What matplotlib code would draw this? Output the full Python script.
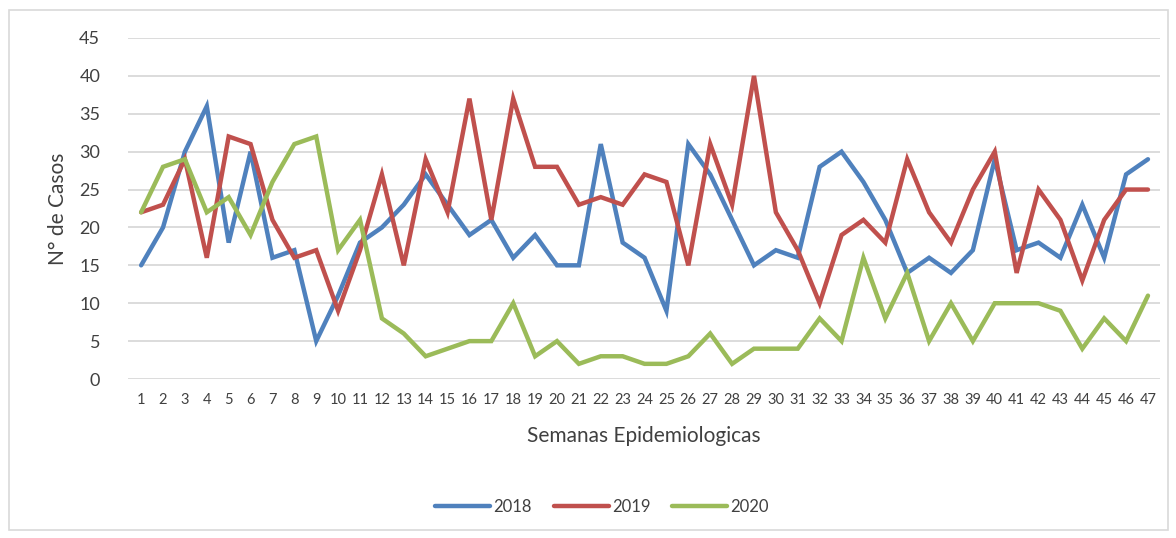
import matplotlib
matplotlib.use("Agg")
import matplotlib.pyplot as plt
from matplotlib.patches import Rectangle

weeks = list(range(1, 48))
s2018 = [15,20,30,36,18,30,16,17,5,11,18,20,23,27,23,19,21,16,19,15,15,31,18,16,9,31,27,21,15,17,16,28,30,26,21,14,16,14,17,29,17,18,16,23,16,27,29]
s2019 = [22,23,29,16,32,31,21,16,17,9,17,27,15,29,22,37,21,37,28,28,23,24,23,27,26,15,31,23,40,22,17,10,19,21,18,29,22,18,25,30,14,25,21,13,21,25,25]
s2020 = [22,28,29,22,24,19,26,31,32,17,21,8,6,3,4,5,5,10,3,5,2,3,3,2,2,3,6,2,4,4,4,8,5,16,8,14,5,10,5,10,10,10,9,4,8,5,11]
series = [("2018", s2018, "#4F81BD"), ("2019", s2019, "#C0504D"), ("2020", s2020, "#9BBB59")]
yticks = list(range(0, 50, 5))

plt.rcParams['font.family'] = ['Lato', 'DejaVu Sans']
W, H = 1176, 538
fig = plt.figure(figsize=(W/100, H/100), dpi=100)
fig.patches.append(Rectangle((9/W, 8/H), (1168-9)/W, (529-9)/H, transform=fig.transFigure,
                             fill=False, edgecolor="#D9D9D9", linewidth=1.2))
ax = fig.add_axes([128/W, 1-379/H, (1160-128)/W, (379-38)/H])
for name, vals, col in series:
    ax.plot(weeks, vals, color=col, linewidth=3.2, label=name, solid_joinstyle='miter', solid_capstyle='round')
ax.set_xlim(0.4, 47.55)
ax.set_ylim(0, 45)
ax.set_yticks(yticks)
ax.set_xticks(weeks)
ax.grid(axis='y', color="#D9D9D9", linewidth=1.3)
ax.set_axisbelow(True)
for s in ax.spines.values():
    s.set_visible(False)
ax.tick_params(axis='both', length=0, colors="#404040")
ax.tick_params(axis='y', labelsize=13, pad=20)
ax.tick_params(axis='x', labelsize=10.5, pad=10)
ax.set_ylabel("N° de Casos", fontsize=15, color="#404040", labelpad=8)
ax.set_xlabel("Semanas Epidemiologicas", fontsize=15, color="#404040", labelpad=14)
leg = fig.legend(loc='center', bbox_to_anchor=(602/W, 1-507/H), ncol=3, frameon=False,
                 fontsize=12, handlelength=3.3, columnspacing=1.3, handletextpad=0.2)
for t in leg.get_texts():
    t.set_color("#404040")
fig.savefig("out.png", dpi=100, facecolor="white")
